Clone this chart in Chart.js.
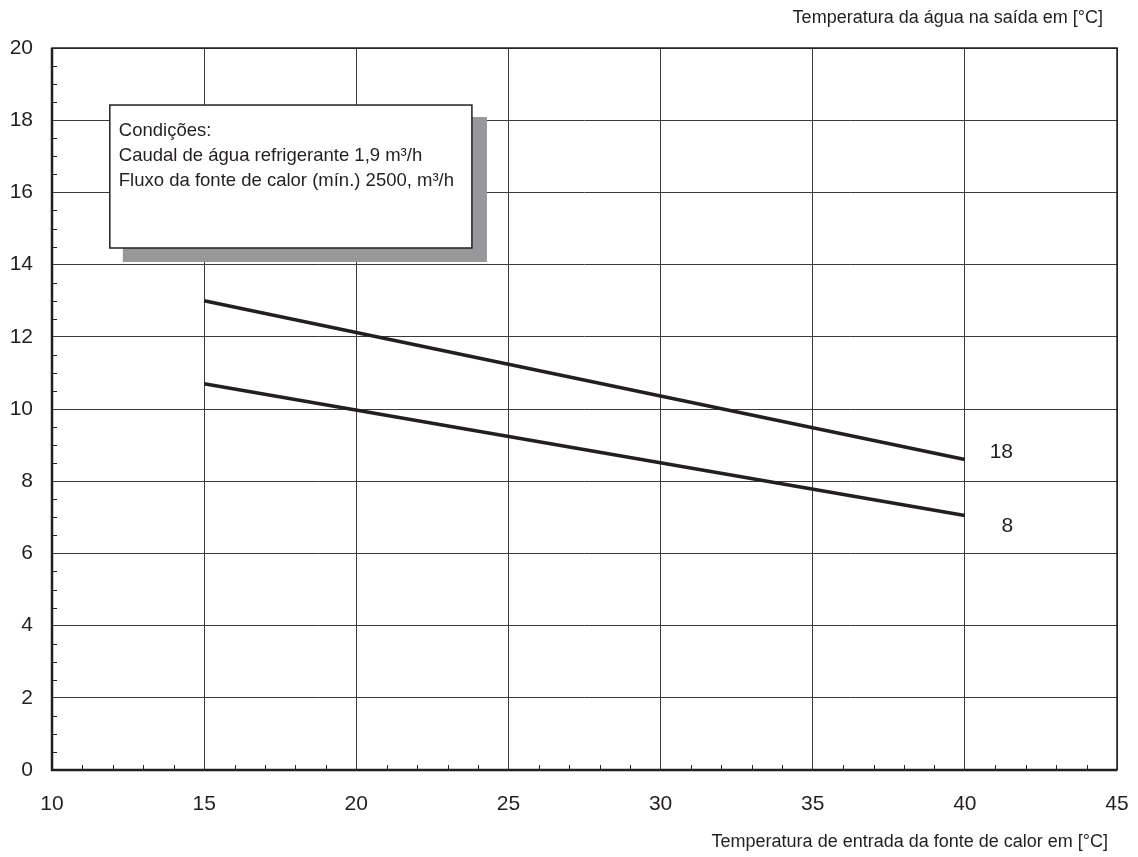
<!DOCTYPE html>
<html>
<head>
<meta charset="utf-8">
<script src="https://cdn.jsdelivr.net/npm/chart.js@4/dist/chart.umd.min.js"></script>
<style>
  html, body { margin: 0; padding: 0; background: #fff; }
  #wrap { width: 1138px; height: 857px; }
</style>
</head>
<body>
<div id="wrap"><canvas id="chart"></canvas></div>
<script>
// Dados do gráfico
const entradaFonte = [15, 40];
const saida18 = [13.0, 8.6];
const saida8 = [10.7, 7.05];
const curvaLabels = ['18', '8'];
const condicoes = [
    'Condições:',
    'Caudal de água refrigerante 1,9 m³/h',
    'Fluxo da fonte de calor (mín.) 2500, m³/h'
];
const tituloX = 'Temperatura de entrada da fonte de calor em [°C]';
const tituloY = 'Temperatura da água na saída em [°C]';

const ink = '#231f20';
const font = '"Liberation Sans", Arial, sans-serif';

function pontos(xs, ys) {
    return xs.map((x, i) => ({ x: x, y: ys[i] }));
}

// Desenha tiques menores, moldura, caixa de condições e rótulos
const extras = {
    id: 'extras',
    afterDatasetsDraw(chart) {
        const ctx = chart.ctx;
        const xs = chart.scales.x;
        const ys = chart.scales.y;
        const area = chart.chartArea;

        ctx.save();
        // tiques menores
        ctx.strokeStyle = ink;
        ctx.lineWidth = 1;
        ctx.beginPath();
        for (let v = xs.min + 1; v < xs.max; v++) {
            if (v % 5 === 0) continue;
            const px = Math.round(xs.getPixelForValue(v)) + 0.5;
            ctx.moveTo(px, area.bottom);
            ctx.lineTo(px, area.bottom - 5);
        }
        for (let v = ys.min + 0.5; v < ys.max; v += 0.5) {
            if (v % 2 === 0) continue;
            const py = Math.round(ys.getPixelForValue(v)) + 0.5;
            ctx.moveTo(area.left, py);
            ctx.lineTo(area.left + 5, py);
        }
        ctx.stroke();

        // moldura
        ctx.lineWidth = 1.5;
        ctx.strokeRect(area.left, area.top, area.right - area.left, area.bottom - area.top);
        ctx.lineWidth = 2.5;
        ctx.beginPath();
        ctx.moveTo(area.left, area.top);
        ctx.lineTo(area.left, area.bottom);
        ctx.lineTo(area.right, area.bottom);
        ctx.stroke();

        // caixa de condições com sombra
        const bx0 = xs.getPixelForValue(11.9), bx1 = xs.getPixelForValue(23.8);
        const by0 = ys.getPixelForValue(18.42), by1 = ys.getPixelForValue(14.46);
        ctx.fillStyle = '#98989a';
        ctx.fillRect(bx0 + 13, by0 + 12, bx1 - bx0 + 2, by1 - by0 + 2);
        ctx.fillStyle = '#fff';
        ctx.fillRect(bx0, by0, bx1 - bx0, by1 - by0);
        ctx.lineWidth = 1.5;
        ctx.strokeStyle = ink;
        ctx.strokeRect(bx0, by0, bx1 - bx0, by1 - by0);
        ctx.fillStyle = ink;
        ctx.font = '18.5px ' + font;
        ctx.textBaseline = 'middle';
        ctx.textAlign = 'left';
        condicoes.forEach((linha, i) => {
            ctx.fillText(linha, bx0 + 9, by0 + 26 + i * 25);
        });

        // rótulos das curvas
        ctx.font = '21px ' + font;
        ctx.textAlign = 'center';
        ctx.fillText(curvaLabels[0], xs.getPixelForValue(41.2), ys.getPixelForValue(8.8));
        ctx.fillText(curvaLabels[1], xs.getPixelForValue(41.4), ys.getPixelForValue(6.75));

        // títulos dos eixos
        ctx.font = '18px ' + font;
        ctx.textAlign = 'right';
        ctx.fillText(tituloY, 1103, 18);
        ctx.fillText(tituloX, 1108, 842);
        ctx.restore();
    }
};

new Chart(document.getElementById('chart'), {
    type: 'line',
    data: {
        datasets: [
            {
                label: curvaLabels[0],
                data: pontos(entradaFonte, saida18),
                borderColor: ink,
                borderWidth: 3.5,
                pointRadius: 0,
                fill: false
            },
            {
                label: curvaLabels[1],
                data: pontos(entradaFonte, saida8),
                borderColor: ink,
                borderWidth: 3.5,
                pointRadius: 0,
                fill: false
            }
        ]
    },
    options: {
        responsive: true,
        maintainAspectRatio: false,
        animation: false,
        layout: {
            padding: { top: 48, right: 21, left: 0, bottom: 0 }
        },
        plugins: {
            legend: { display: false },
            tooltip: { enabled: false }
        },
        scales: {
            x: {
                type: 'linear',
                min: 10,
                max: 45,
                ticks: {
                    stepSize: 5,
                    padding: 22,
                    color: ink,
                    font: { family: font, size: 21 }
                },
                grid: { color: '#3a3a3a', lineWidth: 1, drawTicks: false },
                border: { display: false },
                afterFit(scale) {
                    scale.height = 87;
                    scale.paddingLeft = 0;
                    scale.paddingRight = 0;
                }
            },
            y: {
                min: 0,
                max: 20,
                ticks: {
                    stepSize: 2,
                    padding: 19,
                    color: ink,
                    font: { family: font, size: 21 }
                },
                grid: { color: '#3a3a3a', lineWidth: 1, drawTicks: false },
                border: { display: false },
                afterFit(scale) {
                    scale.width = 52;
                    scale.paddingTop = 0;
                    scale.paddingBottom = 0;
                }
            }
        }
    },
    plugins: [extras]
});
</script>
</body>
</html>
